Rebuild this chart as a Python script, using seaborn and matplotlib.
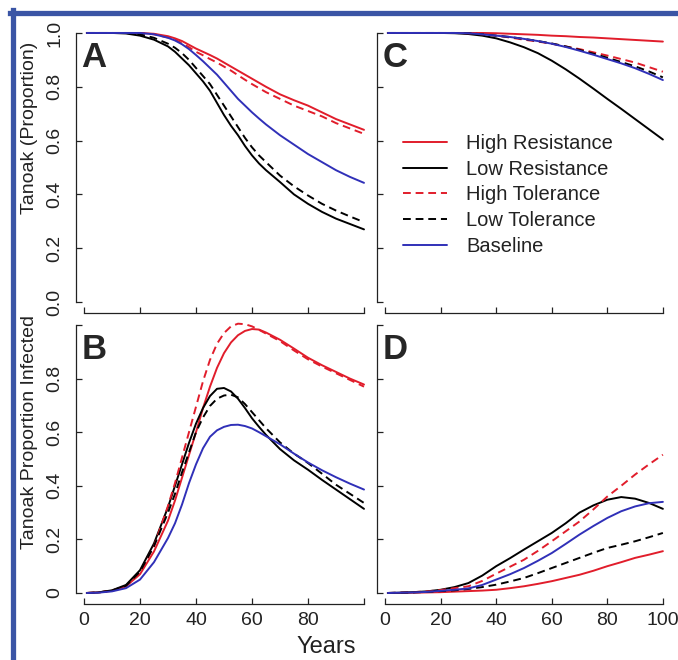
import numpy as np
import pandas as pd
import matplotlib
matplotlib.use("Agg")
import matplotlib.pyplot as plt
import seaborn as sns
from matplotlib.lines import Line2D

sns.set_style("ticks")
plt.rcParams['font.family'] = ['Liberation Sans', 'DejaVu Sans']

scenarios = ['High Resistance', 'Low Resistance', 'High Tolerance', 'Low Tolerance', 'Baseline']

# finer year grid for the top/bottom left panels (sharper curves there)
years_ab = [1, 5, 10, 15, 20, 25, 30, 32.5, 35, 37.5, 40, 42.5, 45, 47.5, 50, 52.5, 55, 57.5,
            60, 62.5, 65, 70, 75, 80, 85, 90, 95, 100]
years_cd = [1, 5, 10, 15, 20, 25, 30, 35, 40, 45, 50, 55, 60, 65, 70, 75, 80, 85, 90, 95, 100]

# A: tanoak proportion, first setting
hr_a = [1.0, 1.0, 1.0, 1.0, 1.0, 0.997, 0.988, 0.98, 0.97, 0.956, 0.942, 0.93, 0.918, 0.905, 0.89, 0.875,
        0.86, 0.845, 0.83, 0.815, 0.80, 0.772, 0.75, 0.73, 0.705, 0.68, 0.66, 0.64]
lr_a = [1.0, 1.0, 1.0, 0.998, 0.99, 0.975, 0.95, 0.93, 0.905, 0.88, 0.85, 0.82, 0.785, 0.74, 0.695, 0.655,
        0.62, 0.58, 0.545, 0.515, 0.49, 0.446, 0.40, 0.365, 0.335, 0.31, 0.29, 0.27]
ht_a = [1.0, 1.0, 1.0, 1.0, 1.0, 0.995, 0.983, 0.975, 0.962, 0.947, 0.93, 0.917, 0.903, 0.89, 0.875, 0.86,
        0.843, 0.826, 0.81, 0.795, 0.78, 0.755, 0.73, 0.71, 0.69, 0.665, 0.645, 0.625]
lt_a = [1.0, 1.0, 1.0, 1.0, 0.995, 0.982, 0.96, 0.945, 0.925, 0.90, 0.87, 0.84, 0.81, 0.77, 0.73, 0.69,
        0.65, 0.61, 0.575, 0.545, 0.52, 0.47, 0.43, 0.396, 0.365, 0.34, 0.318, 0.297]
bl_a = [1.0, 1.0, 1.0, 1.0, 1.0, 0.995, 0.982, 0.972, 0.958, 0.94, 0.918, 0.895, 0.87, 0.845, 0.815, 0.785,
        0.755, 0.73, 0.705, 0.682, 0.66, 0.62, 0.585, 0.55, 0.52, 0.49, 0.465, 0.443]

# B: proportion infected, first setting
hr_b = [0.0, 0.002, 0.008, 0.025, 0.07, 0.155, 0.27, 0.345, 0.43, 0.515, 0.60, 0.69, 0.77, 0.84, 0.895, 0.935,
        0.962, 0.978, 0.985, 0.983, 0.972, 0.945, 0.912, 0.878, 0.85, 0.825, 0.80, 0.778]
lr_b = [0.0, 0.002, 0.01, 0.03, 0.085, 0.185, 0.32, 0.40, 0.48, 0.56, 0.632, 0.69, 0.735, 0.762, 0.765, 0.752,
        0.725, 0.69, 0.652, 0.62, 0.59, 0.537, 0.495, 0.46, 0.422, 0.386, 0.35, 0.314]
ht_b = [0.0, 0.002, 0.008, 0.025, 0.075, 0.175, 0.325, 0.41, 0.505, 0.60, 0.695, 0.79, 0.87, 0.93, 0.97, 0.995,
        1.005, 1.003, 0.995, 0.982, 0.968, 0.94, 0.905, 0.872, 0.845, 0.82, 0.795, 0.77]
lt_b = [0.0, 0.002, 0.009, 0.027, 0.08, 0.175, 0.30, 0.37, 0.45, 0.525, 0.60, 0.655, 0.698, 0.725, 0.737, 0.74,
        0.73, 0.705, 0.675, 0.645, 0.615, 0.562, 0.52, 0.485, 0.445, 0.404, 0.37, 0.336]
bl_b = [0.0, 0.001, 0.006, 0.018, 0.05, 0.115, 0.205, 0.26, 0.33, 0.41, 0.48, 0.54, 0.583, 0.607, 0.62, 0.627,
        0.628, 0.623, 0.614, 0.60, 0.585, 0.555, 0.52, 0.487, 0.458, 0.432, 0.408, 0.386]

# C: tanoak proportion, second setting
hr_c = [1.0, 1.0, 1.0, 1.0, 1.0, 1.0, 1.0, 1.0, 0.999, 0.997, 0.995, 0.993, 0.99, 0.988, 0.985, 0.983, 0.98, 0.977, 0.974, 0.971, 0.968]
lr_c = [1.0, 1.0, 1.0, 1.0, 1.0, 0.999, 0.996, 0.99, 0.98, 0.965, 0.947, 0.925, 0.897, 0.865, 0.83, 0.793, 0.755, 0.718, 0.68, 0.642, 0.604]
ht_c = [1.0, 1.0, 1.0, 1.0, 1.0, 1.0, 0.999, 0.995, 0.99, 0.983, 0.975, 0.968, 0.96, 0.95, 0.94, 0.928, 0.916, 0.903, 0.89, 0.873, 0.856]
lt_c = [1.0, 1.0, 1.0, 1.0, 1.0, 1.0, 0.999, 0.995, 0.99, 0.985, 0.978, 0.97, 0.961, 0.95, 0.937, 0.923, 0.908, 0.892, 0.876, 0.857, 0.835]
bl_c = [1.0, 1.0, 1.0, 1.0, 1.0, 1.0, 0.999, 0.995, 0.99, 0.985, 0.978, 0.97, 0.96, 0.948, 0.934, 0.919, 0.903, 0.887, 0.869, 0.848, 0.825]

# D: proportion infected, second setting
hr_d = [0.0, 0.0, 0.001, 0.002, 0.003, 0.005, 0.007, 0.009, 0.012, 0.018, 0.025, 0.034, 0.044, 0.056, 0.068, 0.083, 0.1, 0.115, 0.131, 0.143, 0.156]
lr_d = [0.0, 0.001, 0.003, 0.006, 0.012, 0.022, 0.037, 0.065, 0.1, 0.13, 0.162, 0.193, 0.224, 0.26, 0.3, 0.327, 0.348, 0.358, 0.352, 0.336, 0.314]
ht_d = [0.0, 0.001, 0.003, 0.006, 0.011, 0.018, 0.025, 0.045, 0.072, 0.098, 0.124, 0.157, 0.193, 0.23, 0.267, 0.312, 0.36, 0.40, 0.442, 0.48, 0.516]
lt_d = [0.0, 0.001, 0.002, 0.004, 0.007, 0.01, 0.015, 0.022, 0.031, 0.043, 0.056, 0.074, 0.093, 0.112, 0.131, 0.15, 0.168, 0.18, 0.193, 0.208, 0.224]
bl_d = [0.0, 0.001, 0.002, 0.004, 0.008, 0.012, 0.017, 0.03, 0.05, 0.07, 0.093, 0.12, 0.149, 0.183, 0.218, 0.25, 0.28, 0.305, 0.323, 0.335, 0.34]

RED = '#e11d2b'
BLUE = '#3030b8'
palette = {'High Resistance': RED, 'Low Resistance': 'black', 'High Tolerance': RED,
           'Low Tolerance': 'black', 'Baseline': BLUE}
dashes = {'High Resistance': '', 'Low Resistance': '', 'High Tolerance': (4, 2.5),
          'Low Tolerance': (4, 2.5), 'Baseline': ''}


def long_df(yrs, series):
    rows = []
    for name, vals in zip(scenarios, series):
        for yr, v in zip(yrs, vals):
            rows.append((yr, v, name))
    return pd.DataFrame(rows, columns=['Year', 'value', 'Scenario'])


W, H = 678, 660
fig = plt.figure(figsize=(W / 100, H / 100), dpi=100)


def px_axes(left, top, right, bottom):
    return fig.add_axes([left / W, 1 - bottom / H, (right - left) / W, (bottom - top) / H])


ax_a = px_axes(75.6, 22.2, 375.2, 312.8)
ax_b = px_axes(75.6, 314.3, 375.2, 603.7)
ax_c = px_axes(376.7, 22.2, 674, 312.8)
ax_d = px_axes(376.7, 314.3, 674, 603.7)

panels = [
    (ax_a, years_ab, [hr_a, lr_a, ht_a, lt_a, bl_a], 'A'),
    (ax_b, years_ab, [hr_b, lr_b, ht_b, lt_b, bl_b], 'B'),
    (ax_c, years_cd, [hr_c, lr_c, ht_c, lt_c, bl_c], 'C'),
    (ax_d, years_cd, [hr_d, lr_d, ht_d, lt_d, bl_d], 'D'),
]

for ax, yrs, series, letter in panels:
    df = long_df(yrs, series)
    sns.lineplot(data=df, x='Year', y='value', hue='Scenario', style='Scenario',
                 hue_order=scenarios, style_order=scenarios, palette=palette,
                 dashes=dashes, linewidth=1.4, ax=ax, legend=(letter == 'C'))
    ax.set_xlim(-3, 104)
    ax.set_ylim(-0.04, 1.04)
    ax.set_facecolor('none')
    for s in ['top', 'right']:
        ax.spines[s].set_visible(False)
    ax.spines['left'].set_bounds(0, 1)
    ax.spines['bottom'].set_bounds(0, 100)
    for s in ['left', 'bottom']:
        ax.spines[s].set_linewidth(0.9)
        ax.spines[s].set_color('#222222')
    ax.set_xticks([0, 20, 40, 60, 80, 100])
    ax.set_yticks([0, 0.2, 0.4, 0.6, 0.8, 1.0])
    ax.tick_params(axis='both', direction='in', length=4, width=0.9, color='#222222',
                   labelsize=14, labelcolor='#222222')
    ax.tick_params(axis='y', pad=9)
    ax.tick_params(axis='x', pad=6)
    ax.set_xlabel('')
    ax.set_ylabel('')
    ax.text(0.02, 0.935, letter, transform=ax.transAxes, fontsize=25,
            fontweight='bold', ha='left', va='top')

ax_a.set_yticklabels(['0.0', '0.2', '0.4', '0.6', '0.8', '1.0'], rotation=90, va='center')
ax_b.set_yticklabels(['0', '0.2', '0.4', '0.6', '0.8', ''], rotation=90, va='center')
ax_c.set_yticklabels([])
ax_d.set_yticklabels([])
ax_a.set_xticklabels([])
ax_c.set_xticklabels([])
ax_b.set_xticklabels(['0', '20', '40', '60', '80', ''])
ax_d.set_xticklabels(['0', '20', '40', '60', '80', '100'])

handles, labels = ax_c.get_legend_handles_labels()
for h in handles:
    h.set_linewidth(1.4)
leg = ax_c.legend(handles, labels, loc='upper left', bbox_to_anchor=(403 / W, 1 - 134 / H),
                  bbox_transform=fig.transFigure, frameon=False, fontsize=14.5,
                  handlelength=2.2, handletextpad=0.95, labelspacing=0.33, borderpad=0,
                  borderaxespad=0)
for t in leg.get_texts():
    t.set_color('#222222')

fig.text(30 / W, 1 - 128 / H, 'Tanoak (Proportion)', rotation=90, fontsize=14,
         ha='center', va='center', color='#222222')
fig.text(30 / W, 1 - 432 / H, 'Tanoak Proportion Infected', rotation=90, fontsize=14,
         ha='center', va='center', color='#222222')
fig.text(326 / W, 1 - 647 / H, 'Years', fontsize=17, ha='center', va='center', color='#222222')

# blue frame around the figure
BORDER = '#3a55a5'
fig.add_artist(Line2D([12.5 / W, 12.5 / W], [0, 1 - 10 / H], transform=fig.transFigure,
                      color=BORDER, linewidth=3.8, solid_capstyle='projecting'))
fig.add_artist(Line2D([10 / W, 1], [1 - 12.5 / H, 1 - 12.5 / H], transform=fig.transFigure,
                      color=BORDER, linewidth=3.8, solid_capstyle='projecting'))

fig.savefig('out.png', dpi=100)
